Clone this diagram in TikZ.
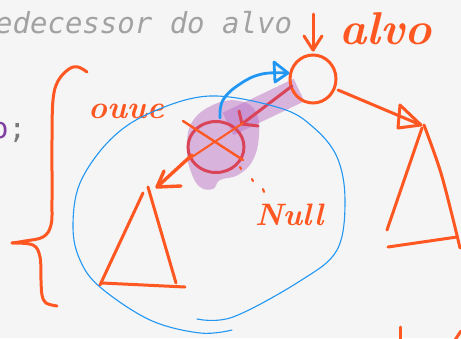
\documentclass[tikz,border=0pt]{standalone}
\usepackage{fontspec}
\newfontfamily\codefont{DejaVu Sans Mono}
\usetikzlibrary{shapes.geometric}
\definecolor{bg}{HTML}{F5F5F5}
\definecolor{ora}{HTML}{FF5722}
\definecolor{redc}{HTML}{DA4458}
\definecolor{blu}{HTML}{2196F3}
\definecolor{pur}{HTML}{BC74C6}
\definecolor{codegray}{HTML}{A2A2A2}
\definecolor{codesemi}{HTML}{7A7A7A}
\definecolor{codepur}{HTML}{7E3FA0}
\begin{document}
\begin{tikzpicture}[x=1pt,y=-1pt,
  pen/.style={ora, line width=3pt, line cap=round, line join=round},
  redpen/.style={redc, line width=3pt, line cap=round, line join=round},
  bluepen/.style={blu, line width=2.8pt, line cap=round, line join=round},
  thinblue/.style={blu, line width=1.1pt, line cap=round},
  hilite/.style={pur, opacity=0.5},
  hand/.style={ora, inner sep=0pt, font=\bfseries\itshape\fontsize{#1}{#1}\selectfont},
  code/.style={inner sep=0pt, anchor=base west, font=\codefont\fontsize{29}{30}\selectfont}]
\useasboundingbox (0,0) rectangle (461,338);
\clip (0,0) rectangle (461,338);
\fill[bg] (0,0) rectangle (461,338);

% code text
\node[code, codegray, font=\codefont\itshape\fontsize{29}{30}\selectfont] (comment) at (-5,33) {edecessor do alvo};
\node[code] (semi) at (-9,138) {\textcolor{codepur}{o}\textcolor{codesemi}{;}};

% purple highlight
\fill[hilite] plot[smooth cycle, tension=0.7] coordinates {(215,104) (240,101) (256,112) (259,135) (253,160) (238,175) (220,180) (213,189) (200,187) (191,172) (187,150) (192,122)};
\draw[hilite, line width=25pt, line cap=butt] (299,90) -- (228,124);

% nodes
\node[draw=ora, line width=3pt, ellipse, minimum width=46pt, minimum height=48pt, inner sep=0pt] (target) at (313,79) {};
\node[draw=redc, line width=3pt, ellipse, minimum width=56pt, minimum height=51pt, inner sep=0pt] (crossed) at (216,147) {};

% labels
\node[hand=46, anchor=base west] (alvo) at (339,44) {alvo};
\node[hand=32, anchor=base west] (ouue) at (88,118) {ouue};
\node[hand=31, anchor=base west] (null) at (255,225) {Null};

% arrow down to target
\coordinate (dtop) at (313,14);
\coordinate (dtip) at (313,50);
\draw[pen] (dtop) -- (dtip);
\draw[pen] (304,36) -- (dtip) -- (322,36);

% red arrow target -> crossed
\coordinate (rstart) at (292,86);
\coordinate (rtip) at (242,124);
\draw[redpen] (rstart) -- (rtip);
\draw[redpen] (239,111) -- (rtip) -- (258,126);

% blue arrow
\coordinate (bstart) at (220,118);
\coordinate (btip) at (288,73);
\draw[bluepen] plot[smooth, tension=0.7] coordinates {(bstart) (223,100) (240,84) (262,74) (btip)};
\draw[bluepen] (274,62) -- (btip) -- (275,82) -- cycle;

% cross over crossed circle
\draw[pen, line width=2.4pt] (183,121) -- (243,160);
\draw[pen, line width=2pt] (243,123) -- (180,165);

% arrow to left triangle
\coordinate (lapex) at (157,187);
\draw[pen, line width=3.4pt] (192,155) -- (lapex);
\draw[pen, line width=3.4pt] (164,171) -- (lapex) -- (181,186);

% left triangle
\draw[pen] (143,193) -- (100,285);
\draw[pen] (102,283) -- (185,287);
\draw[pen] (148,187) -- (176,283);

% arrow target -> right triangle
\coordinate (rapex) at (421,125);
\draw[pen] (338,90) -- (rapex);
\draw[pen] (400,105) -- (398,128) -- (rapex) -- cycle;

% right triangle
\draw[pen] (422,128) -- (387,230);
\draw[pen] plot[smooth, tension=0.6] coordinates {(424,125) (440,170) (452,215) (460,248)};
\draw[pen] (388,247) -- (457,237);

% dots to Null
\draw[pen, line width=2.2pt] (240,167) -- (241,169);
\draw[pen, line width=2.2pt] (252,179) -- (253,181);
\draw[pen, line width=2.2pt] (263,189) -- (264,192);

% big blue loop
\draw[thinblue] plot[smooth, tension=0.6] coordinates {(197,319) (233,317) (300,281) (337,250) (345,200) (337,157) (313,127) (280,108) (210,96) (150,113) (110,140) (80,183) (73,227) (80,260) (100,287) (150,320) (200,333) (232,330)};

% brace
\draw[pen] plot[smooth, tension=0.6] coordinates {(87,72) (78,67) (69,69) (58,81) (53,100) (52,140) (52,200) (51,225) (43,237) (25,241) (12,243)};
\draw[pen] plot[smooth, tension=0.6] coordinates {(12,243) (33,245) (40,257) (41,280) (42,295) (46,303) (57,306)};

% bottom-right strokes
\draw[pen] (400,327) -- (400,340);
\draw[pen] (455,340) -- (461,331);
\end{tikzpicture}
\end{document}
